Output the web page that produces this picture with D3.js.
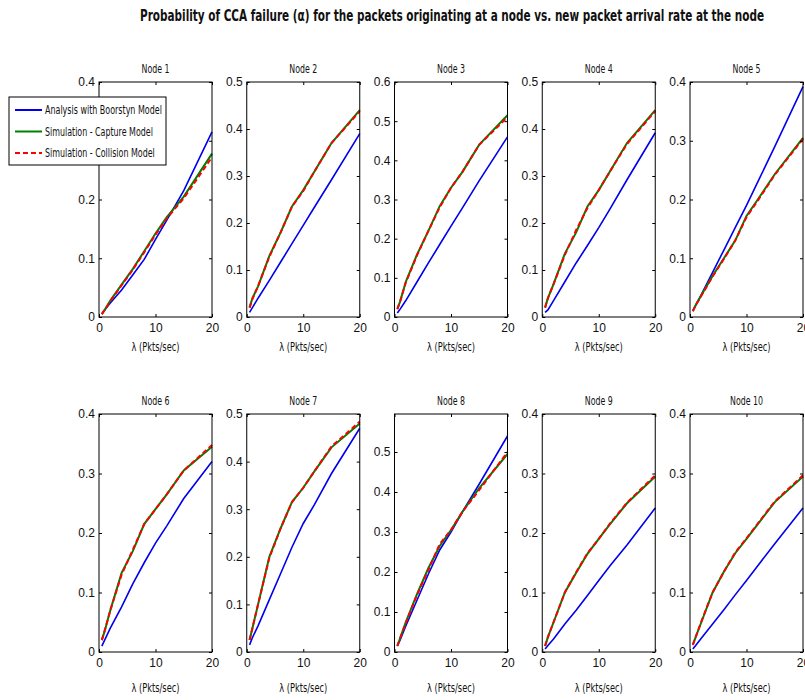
<!DOCTYPE html>
<html><head><meta charset="utf-8">
<script src="https://cdn.jsdelivr.net/npm/d3@7"></script>
<style>
body{margin:0;background:#fff;}
svg{display:block;font-family:"Liberation Sans Narrow","Arial Narrow","DejaVu Sans Condensed",sans-serif;}
</style></head><body>
<svg id="c" width="805" height="700"></svg>
<script>
// ---- data ----
const nodeNames = ["Node 1","Node 2","Node 3","Node 4","Node 5","Node 6","Node 7","Node 8","Node 9","Node 10"];
const lambda = [0.5, 1, 2, 4, 6, 8, 10, 12, 15, 20];
const yMax = [0.4, 0.5, 0.6, 0.5, 0.4, 0.4, 0.5, 0.595, 0.4, 0.4];
const yTicks = [
  [0,0.1,0.2,0.3,0.4],[0,0.1,0.2,0.3,0.4,0.5],[0,0.1,0.2,0.3,0.4,0.5,0.6],[0,0.1,0.2,0.3,0.4,0.5],[0,0.1,0.2,0.3,0.4],
  [0,0.1,0.2,0.3,0.4],[0,0.1,0.2,0.3,0.4,0.5],[0,0.1,0.2,0.3,0.4,0.5],[0,0.1,0.2,0.3,0.4],[0,0.1,0.2,0.3,0.4]
];
const xTicks = [0, 10, 20];
const analysisBoorstyn = [
  [0.005,0.012,0.024,0.046,0.072,0.098,0.132,0.165,0.215,0.315],
  [0.010,0.020,0.040,0.078,0.117,0.156,0.195,0.234,0.292,0.390],
  [0.010,0.020,0.042,0.090,0.138,0.185,0.232,0.278,0.348,0.460],
  [0.010,0.015,0.035,0.075,0.115,0.152,0.190,0.230,0.292,0.392],
  [0.010,0.020,0.038,0.076,0.114,0.152,0.190,0.230,0.290,0.392],
  [0.010,0.020,0.040,0.076,0.115,0.150,0.183,0.212,0.258,0.320],
  [0.015,0.030,0.055,0.110,0.165,0.220,0.270,0.310,0.375,0.470],
  [0.015,0.030,0.065,0.130,0.195,0.255,0.300,0.350,0.420,0.540],
  [0.005,0.011,0.022,0.047,0.070,0.095,0.120,0.145,0.180,0.242],
  [0.005,0.011,0.023,0.047,0.071,0.096,0.120,0.145,0.182,0.242]
];
const simCapture = [
  [0.005,0.012,0.028,0.055,0.082,0.112,0.142,0.170,0.205,0.278],
  [0.020,0.040,0.065,0.130,0.180,0.235,0.270,0.310,0.370,0.440],
  [0.020,0.040,0.090,0.160,0.220,0.283,0.330,0.370,0.440,0.515],
  [0.020,0.040,0.070,0.135,0.180,0.235,0.270,0.310,0.370,0.440],
  [0.010,0.020,0.037,0.070,0.100,0.130,0.172,0.200,0.243,0.305],
  [0.020,0.035,0.070,0.133,0.170,0.215,0.240,0.265,0.305,0.345],
  [0.025,0.050,0.100,0.200,0.260,0.315,0.345,0.380,0.430,0.480],
  [0.015,0.035,0.075,0.145,0.210,0.265,0.305,0.350,0.410,0.495],
  [0.010,0.025,0.050,0.100,0.133,0.165,0.190,0.215,0.250,0.295],
  [0.012,0.025,0.050,0.100,0.135,0.166,0.190,0.215,0.252,0.295]
];
const simCollision = [
  [0.005,0.012,0.027,0.054,0.081,0.110,0.140,0.168,0.202,0.272],
  [0.020,0.038,0.066,0.128,0.180,0.235,0.268,0.310,0.370,0.438],
  [0.020,0.040,0.088,0.158,0.220,0.280,0.330,0.370,0.440,0.510],
  [0.020,0.040,0.070,0.132,0.185,0.232,0.270,0.310,0.368,0.438],
  [0.010,0.020,0.036,0.069,0.099,0.130,0.170,0.198,0.242,0.303],
  [0.020,0.036,0.070,0.130,0.172,0.215,0.240,0.265,0.305,0.348],
  [0.025,0.050,0.100,0.198,0.260,0.315,0.345,0.380,0.432,0.484],
  [0.015,0.035,0.072,0.143,0.205,0.270,0.305,0.350,0.405,0.500],
  [0.010,0.025,0.050,0.100,0.134,0.166,0.190,0.216,0.251,0.297],
  [0.012,0.025,0.051,0.100,0.135,0.167,0.191,0.216,0.253,0.297]
];
const seriesNames = ["Analysis with Boorstyn Model","Simulation - Capture Model","Simulation - Collision Model"];
const seriesColors = ["#0000ee","#007f00","#ff0000"];
const titleText = "Probability of CCA failure (\u03b1) for the packets originating at a node vs. new packet arrival rate at the node";
const xLabel = "\u03bb (Pkts/sec)";

// ---- layout ----
const svg = d3.select("#c");
const panelW = 113, colStep = 147.75, left0 = 99;
const rows = [{top:82, h:235}, {top:414, h:238}];
const tk = 3;
const txtCol = "#111";

// place text at (x,y) with given anchor, horizontally compressed to the target width
function fitText(parent, str, x, y, width, size, anchor, bold) {
  const t = parent.append("text").attr("font-size", size).attr("fill", txtCol)
    .attr("text-anchor", anchor).attr("font-weight", bold ? "bold" : null).text(str);
  const natural = t.node().getComputedTextLength();
  const s = Math.min(1, width / natural);
  t.attr("transform", `translate(${x},${y}) scale(${s},1)`);
  return t;
}

fitText(svg, titleText, 452, 21, 625, 15, "middle", true);

nodeNames.forEach((name, i) => {
  const r = rows[Math.floor(i/5)], c = i % 5;
  const x0 = left0 + c*colStep;
  const g = svg.append("g").attr("transform", `translate(${x0},${r.top})`);
  const x = d3.scaleLinear().domain([0,20]).range([0,panelW]);
  const y = d3.scaleLinear().domain([0,yMax[i]]).range([r.h,0]);

  g.append("rect").attr("width",panelW).attr("height",r.h).attr("fill","#fff");

  const line = d3.line().x((d,k)=>x(lambda[k])).y(d=>y(d));
  g.append("path").datum(analysisBoorstyn[i]).attr("d",line).attr("fill","none")
    .attr("stroke",seriesColors[0]).attr("stroke-width",1.6);
  g.append("path").datum(simCapture[i]).attr("d",line).attr("fill","none")
    .attr("stroke",seriesColors[1]).attr("stroke-width",2);
  g.append("path").datum(simCollision[i]).attr("d",line).attr("fill","none")
    .attr("stroke",seriesColors[2]).attr("stroke-width",2).attr("stroke-dasharray","5,3");

  // axes
  const fmt = d => d===0 ? "0" : d3.format(".1f")(d);
  const ax = g.append("g");
  ax.append("g").call(d3.axisLeft(y).tickValues(yTicks[i]).tickSize(-tk).tickPadding(4).tickFormat(fmt));
  ax.append("g").attr("transform",`translate(${panelW},0)`).call(d3.axisRight(y).tickValues(yTicks[i]).tickSize(-tk).tickFormat(""));
  ax.append("g").attr("transform",`translate(0,${r.h})`).call(d3.axisBottom(x).tickValues(xTicks).tickSize(-tk).tickPadding(6).tickFormat(d3.format("d")));
  ax.append("g").call(d3.axisTop(x).tickValues(xTicks).tickSize(-tk).tickFormat(""));
  ax.selectAll(".domain").remove();
  ax.selectAll("text").attr("font-family","inherit").attr("font-size",12).attr("fill",txtCol);
  ax.selectAll("line").attr("stroke","#000");
  g.append("rect").attr("width",panelW).attr("height",r.h).attr("fill","none").attr("stroke","#000").attr("stroke-width",1);

  fitText(g, name, panelW/2, -9, name.length>6 ? 33 : 28, 12, "middle", false);
  fitText(g, xLabel, panelW/2, r.h+(i<5?34:40), 48, 12, "middle", false);
});

// legend
const legendLens = [117, 108, 110];
const lg = svg.append("g").attr("transform","translate(9,97)");
lg.append("rect").attr("width",157).attr("height",68).attr("fill","#fff").attr("stroke","#000").attr("stroke-width",1);
seriesNames.forEach((s,k)=>{
  const yy = 13 + k*21.5;
  lg.append("line").attr("x1",6).attr("x2",33).attr("y1",yy).attr("y2",yy)
    .attr("stroke",seriesColors[k]).attr("stroke-width",2).attr("stroke-dasharray",k===2?"5,3":null);
  fitText(lg, s, 36, yy+4, legendLens[k], 12, "start", false);
});
</script>
</body></html>
